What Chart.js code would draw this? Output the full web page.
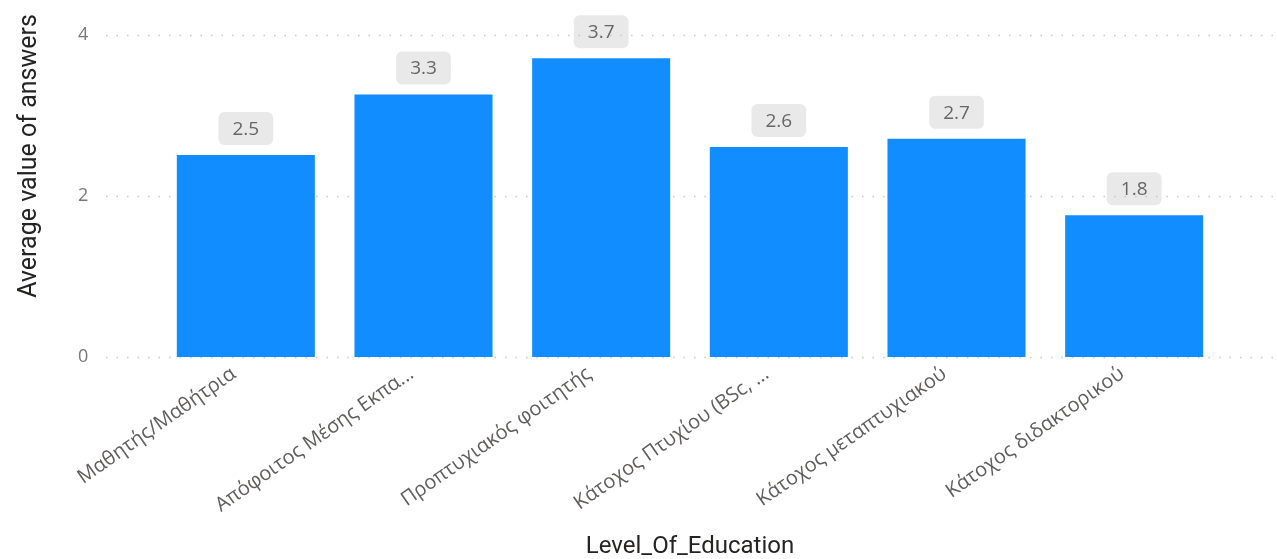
<!DOCTYPE html>
<html>
<head>
<meta charset="utf-8">
<script src="https://cdn.jsdelivr.net/npm/chart.js@4.4.1/dist/chart.umd.min.js"></script>
<style>
  html, body { margin: 0; padding: 0; background: #fff; }
  #wrap { width: 1277px; height: 559px; position: relative; }
</style>
</head>
<body>
<div id="wrap"><canvas id="eduChart" width="1277" height="559"></canvas></div>
<script>
/* ===== Data ===== */
const educationLevels = [
  'Μαθητής/Μαθήτρια',
  'Απόφοιτος Μέσης Εκπα...',
  'Προπτυχιακός φοιτητής',
  'Κάτοχος Πτυχίου (BSc, ...',
  'Κάτοχος μεταπτυχιακού',
  'Κάτοχος διδακτορικού',
];
const avgAnswers = [2.51, 3.26, 3.71, 2.61, 2.71, 1.76];
const yTickStep = 2;
const yMax = 4;
const yTitle = 'Average value of answers';
const xTitle = 'Level_Of_Education';

/* ===== Background: value pills, dotted grid, y title ===== */
const backdrop = {
  id: 'backdrop',
  beforeDatasetsDraw(chart) {
    const { ctx, scales: { y } } = chart;
    const meta = chart.getDatasetMeta(0);
    ctx.save();

    // value labels in grey rounded boxes above each bar
    ctx.font = '19px "Open Sans"';
    ctx.textAlign = 'center';
    ctx.textBaseline = 'middle';
    meta.data.forEach((bar, i) => {
      const txt = avgAnswers[i].toFixed(1);
      const w = ctx.measureText(txt).width + 28;
      const h = 33;
      const top = bar.y - 10 - h;
      ctx.fillStyle = '#e9e9e9';
      ctx.beginPath();
      ctx.roundRect(bar.x - w / 2, top, w, h, 6);
      ctx.fill();
      ctx.fillStyle = '#666';
      ctx.fillText(txt, bar.x, top + h / 2 + 1);
    });

    // dotted gridlines run wider than the plot area
    ctx.strokeStyle = '#c8c8c8';
    ctx.lineWidth = 1.5;
    ctx.setLineDash([1.5, 9]);
    y.ticks.forEach(t => {
      const py = Math.round(y.getPixelForValue(t.value)) + 0.5;
      ctx.beginPath();
      ctx.moveTo(106, py);
      ctx.lineTo(1277, py);
      ctx.stroke();
    });
    ctx.setLineDash([]);

    // y axis title
    ctx.translate(30, 156);
    ctx.rotate(-Math.PI / 2);
    ctx.font = '25px Roboto';
    ctx.fillStyle = '#252423';
    ctx.fillText(yTitle, 0, 0);
    ctx.restore();
  },
};

Chart.defaults.font.family = '"Open Sans"';

new Chart(document.getElementById('eduChart'), {
  type: 'bar',
  data: {
    labels: educationLevels,
    datasets: [{
      data: avgAnswers,
      backgroundColor: '#118dff',
      borderWidth: 0,
      categoryPercentage: 1,
      barPercentage: 0.777,
    }],
  },
  options: {
    responsive: false,
    animation: false,
    events: [],
    layout: { padding: { top: 35, right: 54, left: 78, bottom: 0 } },
    plugins: { legend: { display: false }, tooltip: { enabled: false } },
    scales: {
      x: {
        grid: { display: false, drawTicks: false },
        border: { display: false },
        ticks: {
          autoSkip: false,
          minRotation: 35,
          maxRotation: 35,
          padding: 5,
          labelOffset: -12,
          color: '#605e5c',
          font: { size: 20 },
        },
        title: {
          display: true,
          text: xTitle,
          color: '#252423',
          font: { family: 'Roboto', size: 24, lineHeight: 1 },
          padding: { top: 0, bottom: 0 },
        },
        afterFit(scale) { scale.height = 202; },
      },
      y: {
        min: 0,
        max: yMax,
        grid: { display: false, drawTicks: false },
        border: { display: false },
        ticks: {
          stepSize: yTickStep,
          padding: 0,
          crossAlign: 'far',
          color: '#777',
          font: { size: 18 },
        },
        afterFit(scale) { scale.width = 79; },
      },
    },
  },
  plugins: [backdrop],
});
</script>
</body>
</html>
